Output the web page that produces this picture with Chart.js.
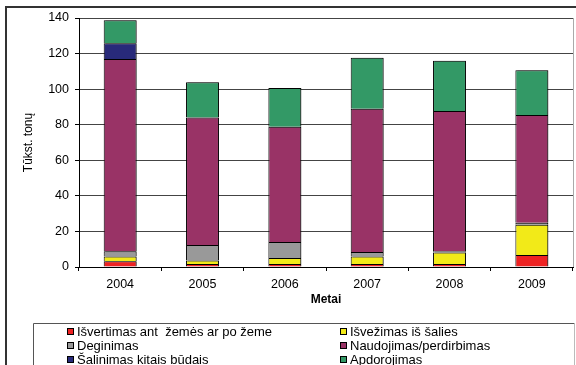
<!DOCTYPE html>
<html>
<head>
<meta charset="utf-8">
<script src="https://cdn.jsdelivr.net/npm/chart.js@4.4.1/dist/chart.umd.min.js"></script>
<style>
  body { margin: 0; background: #fff; }
  #wrap { width: 576px; height: 365px; }
</style>
</head>
<body>
<div id="wrap"><canvas id="myChart" width="576" height="365"></canvas></div>
<script>
const years = ['2004', '2005', '2006', '2007', '2008', '2009'];
const isvertimas = [3.3, 1.7, 1.7, 1.7, 1.7, 6.7];
const isvezimas = [2.6, 2.0, 3.3, 4.2, 6.5, 17.1];
const deginimas = [3.0, 8.6, 9.0, 2.5, 0.7, 1.1];
const naudojimas = [108, 71.7, 64.8, 80.6, 78.8, 60.6];
const salinimas = [8.9, 0, 0, 0, 0, 0];
const apdorojimas = [13, 19.9, 21.8, 28.7, 28.3, 25.1];
const yTicks = [0, 20, 40, 60, 80, 100, 120, 140];

const fontFam = "'Liberation Sans', Arial, sans-serif";

// frame, legend box and shadows drawn by hand
const boxLegend = {
    id: 'boxLegend',
    beforeDatasetsDraw(chart) {
        const ctx = chart.ctx;
        ctx.save();
        ctx.shadowColor = 'rgba(0,0,0,0.3)';
        ctx.shadowOffsetX = 2;
        ctx.shadowOffsetY = 0;
        ctx.shadowBlur = 0;
    },
    afterDatasetsDraw(chart) {
        chart.ctx.restore();
    },
    afterDraw(chart) {
        const ctx = chart.ctx;
        const area = chart.chartArea;
        ctx.save();
        // plot area right edge
        ctx.strokeStyle = '#aaaaaa';
        ctx.lineWidth = 1;
        ctx.beginPath();
        ctx.moveTo(Math.round(area.right) + 0.5, area.top);
        ctx.lineTo(Math.round(area.right) + 0.5, area.bottom);
        ctx.stroke();

        // outer frame of chart
        ctx.strokeStyle = '#333333';
        ctx.lineWidth = 2;
        ctx.beginPath();
        ctx.moveTo(6, 380);
        ctx.lineTo(6, 7);
        ctx.lineTo(590, 7);
        ctx.stroke();

        // legend box
        ctx.lineWidth = 1;
        ctx.strokeStyle = '#555555';
        ctx.beginPath();
        ctx.moveTo(33.5, 380);
        ctx.lineTo(33.5, 323.5);
        ctx.lineTo(574.5, 323.5);
        ctx.stroke();
        ctx.strokeStyle = '#bbbbbb';
        ctx.beginPath();
        ctx.moveTo(574.5, 323.5);
        ctx.lineTo(574.5, 380);
        ctx.stroke();

        ctx.font = '13px ' + fontFam;
        ctx.textBaseline = 'middle';
        ctx.textAlign = 'left';
        chart.data.datasets.forEach((ds, i) => {
            const col = i % 2;
            const row = Math.floor(i / 2);
            const x = col === 0 ? 67 : 340;
            const y = 331 + row * 14;
            ctx.fillStyle = ds.backgroundColor;
            ctx.fillRect(x, y - 3, 7, 7);
            ctx.strokeStyle = '#000';
            ctx.strokeRect(x + 0.5, y - 2.5, 6, 6);
            ctx.fillStyle = '#000';
            ctx.fillText(ds.label, x + 10, y + 1);
        });
        ctx.restore();
    }
};

function makeSet(label, data, color) {
    return {
        label: label,
        data: data,
        backgroundColor: color,
        borderColor: '#000000',
        borderWidth: 1,
        barPercentage: 0.4,
        categoryPercentage: 1.0
    };
}

const ctx = document.getElementById('myChart').getContext('2d');
const myChart = new Chart(ctx, {
    type: 'bar',
    data: {
        labels: years,
        datasets: [
            makeSet('Išvertimas ant  žemės ar po žeme', isvertimas, '#ee2222'),
            makeSet('Išvežimas iš šalies', isvezimas, '#f2ea18'),
            makeSet('Deginimas', deginimas, '#999999'),
            makeSet('Naudojimas/perdirbimas', naudojimas, '#993366'),
            makeSet('Šalinimas kitais būdais', salinimas, '#282a7a'),
            makeSet('Apdorojimas', apdorojimas, '#339966')
        ]
    },
    options: {
        responsive: false,
        animation: false,
        layout: { padding: { left: 7, top: 18, right: 3, bottom: 54 } },
        plugins: {
            legend: { display: false },
            tooltip: { enabled: false }
        },
        scales: {
            x: {
                stacked: true,
                afterFit: s => { s.height = 44; },
                grid: {
                    display: true,
                    drawOnChartArea: false,
                    offset: true,
                    tickLength: 4,
                    tickColor: '#000'
                },
                border: { color: '#000' },
                ticks: {
                    color: '#000',
                    padding: 6,
                    font: { family: fontFam, size: 12.5 }
                },
                title: {
                    display: true,
                    text: 'Metai',
                    color: '#000',
                    font: { family: fontFam, size: 12, weight: 'bold' },
                    padding: { top: 0, bottom: 4 }
                }
            },
            y: {
                stacked: true,
                min: 0,
                max: 140,
                afterFit: s => { s.width = 72; },
                afterBuildTicks: s => { s.ticks = yTicks.map(v => ({ value: v })); },
                grid: {
                    color: '#444444',
                    tickLength: 4,
                    tickColor: '#000'
                },
                border: { color: '#000' },
                ticks: {
                    color: '#000',
                    padding: 6,
                    font: { family: fontFam, size: 12.5 }
                },
                title: {
                    display: true,
                    text: 'Tūkst. tonų',
                    color: '#000',
                    font: { family: fontFam, size: 12 },
                    padding: { top: 14, bottom: 4 }
                }
            }
        }
    },
    plugins: [boxLegend]
});
</script>
</body>
</html>
